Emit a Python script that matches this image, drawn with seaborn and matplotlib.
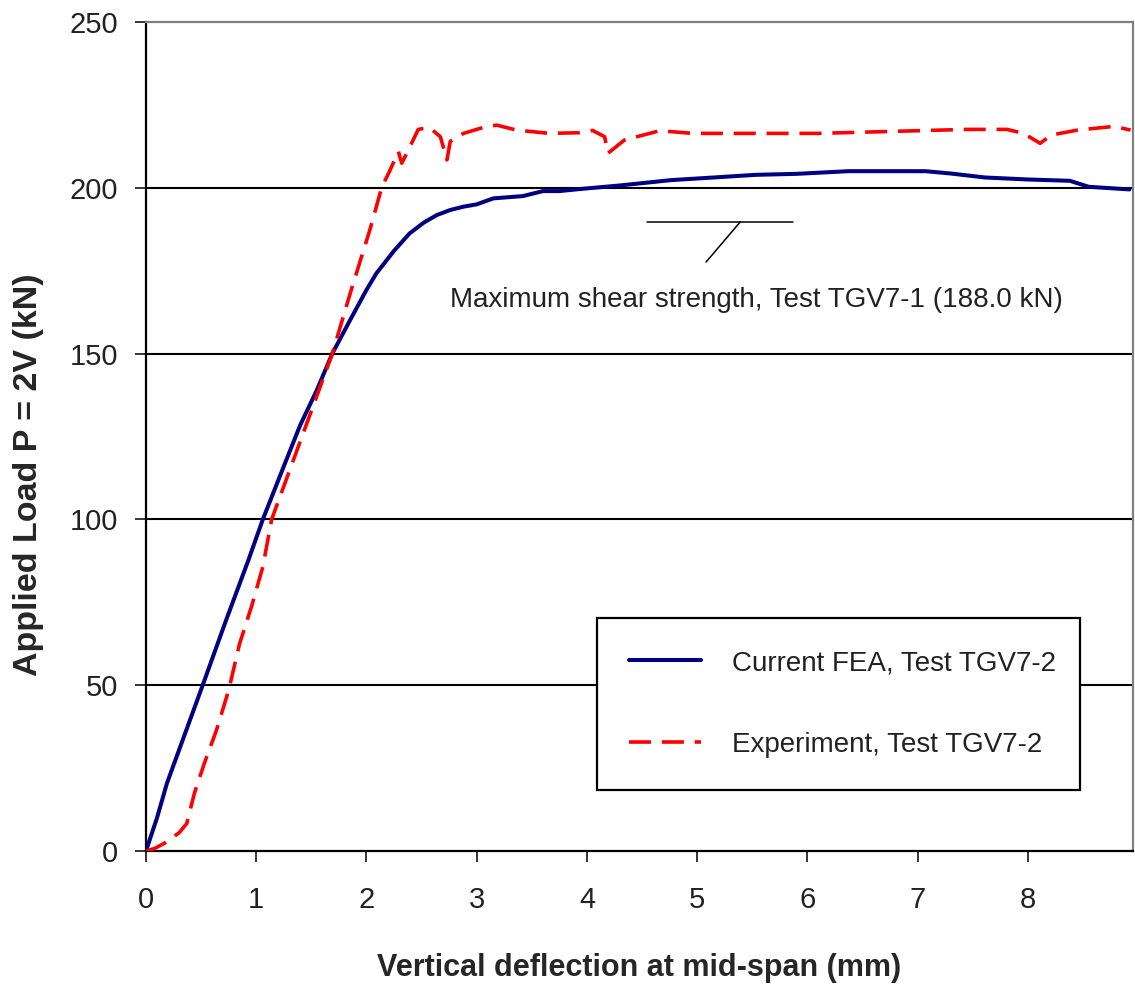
import matplotlib
matplotlib.use("Agg")
import matplotlib.pyplot as plt
import seaborn as sns
import pandas as pd

# ---------------- data ----------------
fea_x = [0, 0.1, 0.19, 0.35, 0.52, 0.72, 0.93, 1.06, 1.25, 1.40, 1.55, 1.69, 1.85,
         2.0, 2.09, 2.25, 2.39, 2.52, 2.64, 2.76, 2.88, 3.0, 3.15, 3.42, 3.60, 3.75,
         3.93, 4.3, 4.76, 5.1, 5.53, 5.9, 6.37, 7.07, 7.3, 7.61, 8.0, 8.38, 8.55, 8.92]
fea_y = [0, 10, 20.4, 35, 50.5, 69, 87.8, 100, 116, 128.5, 139, 150, 160,
         169.2, 174.2, 181, 186.2, 189.5, 191.8, 193.3, 194.3, 195, 196.8, 197.5, 199, 199,
         199.6, 200.7, 202.3, 203, 203.9, 204.2, 205, 205, 204.3, 203.1, 202.5, 202.1, 200.3, 199.5]

exp_x = [0, 0.08, 0.17, 0.3, 0.37, 0.44, 0.53, 0.64, 0.75, 0.85, 0.96, 1.06, 1.14,
         1.3, 1.5, 1.69, 1.86, 2.03, 2.14, 2.2, 2.29, 2.32, 2.38, 2.47, 2.57, 2.67,
         2.73, 2.76, 2.88, 3.06, 3.18, 3.36, 3.66, 3.93, 4.05, 4.16, 4.19, 4.34, 4.66,
         4.96, 6.1, 6.77, 7.44, 7.81, 7.96, 8.11, 8.21, 8.45, 8.78, 8.93]
exp_y = [0, 0.8, 2.4, 5.5, 8.3, 17.5, 26.5, 36.5, 48.5, 62.6, 74, 85.7, 100,
         114.5, 132.7, 150, 169, 187.2, 200.3, 204.3, 210.9, 207.4, 211.4, 217.6, 218.2, 215.4,
         208.4, 214, 216.4, 218.2, 218.9, 217.4, 216.4, 216.6, 217.3, 215.4, 210.4, 214.4, 217.2,
         216.4, 216.4, 217, 217.6, 217.6, 216.4, 213.4, 215.9, 217.4, 218.5, 217.4]

series_names = ["Current FEA, Test TGV7-2", "Experiment, Test TGV7-2"]
x_ticks = [0, 1, 2, 3, 4, 5, 6, 7, 8]
y_ticks = [0, 50, 100, 150, 200, 250]
annotation_text = "Maximum shear strength, Test TGV7-1 (188.0 kN)"
strength_level = 189.7
strength_span = [4.54, 5.87]

# ---------------- styling ----------------
sns.set_theme(style="white")
plt.rcParams["font.family"] = ["Liberation Sans", "DejaVu Sans"]

fig = plt.figure(figsize=(11.35, 9.89), dpi=100)
ax = fig.add_axes([0.1286, 0.1395, 0.998 - 0.1286, 0.9778 - 0.1395])

df_fea = pd.DataFrame({"x": fea_x, "y": fea_y, "s": series_names[0]})
df_exp = pd.DataFrame({"x": exp_x, "y": exp_y, "s": series_names[1]})

# grid lines
for yv in y_ticks[1:-1]:
    ax.axhline(yv, color="black", lw=1.5, zorder=1)

sns.lineplot(data=df_fea, x="x", y="y", sort=False, estimator=None, ax=ax,
             color="#000080", lw=2.9, label=series_names[0], zorder=3)
sns.lineplot(data=df_exp, x="x", y="y", sort=False, estimator=None, ax=ax,
             color="#FF0000", lw=2.6, label=series_names[1], zorder=3,
             dashes=False)
ax.lines[-1].set_dashes([6.1, 3.0])

# annotation marks
ax.plot(strength_span, [strength_level, strength_level], color="black", lw=1.1, zorder=2)
ax.plot([5.39, 5.08], [strength_level, 177.6], color="black", lw=1.1, zorder=2)
ax.text(5.535, 166.2, annotation_text, ha="center", va="center", fontsize=20, color="#222222")

ax.set_xlim(0, 8.95)
ax.set_ylim(0, 250)
ax.set_xticks(x_ticks)
ax.set_yticks(y_ticks)
ax.tick_params(axis="both", direction="out", length=8, width=1.1, color="black",
               labelsize=21, labelcolor="#222222", left=True, bottom=True)
ax.tick_params(axis="y", pad=12)
ax.tick_params(axis="x", pad=17)

for side in ["left", "bottom"]:
    ax.spines[side].set_color("black")
    ax.spines[side].set_linewidth(1.6)
for side in ["top", "right"]:
    ax.spines[side].set_color("#808080")
    ax.spines[side].set_linewidth(1.6)

ax.set_xlabel("Vertical deflection at mid-span (mm)", fontsize=22, fontweight="bold",
              labelpad=28)
ax.set_ylabel("Applied Load P = 2V (kN)", fontsize=24.5, fontweight="bold")
ax.yaxis.set_label_coords(-0.1036, 0.4535)

leg = ax.legend(loc="lower left", bbox_to_anchor=(0.457, 0.074, 0.49, 0.212),
                mode="expand", borderaxespad=0, fontsize=20, frameon=True,
                fancybox=False, shadow=False, handlelength=2.6, handletextpad=1.1,
                labelspacing=2.0, borderpad=1.15)
leg.get_frame().set_edgecolor("black")
leg.get_frame().set_linewidth(1.6)
leg.get_frame().set_facecolor("white")
leg.get_frame().set_alpha(1)
for t in leg.get_texts():
    t.set_color("#222222")

fig.savefig("out.png", dpi=100, facecolor="white")
